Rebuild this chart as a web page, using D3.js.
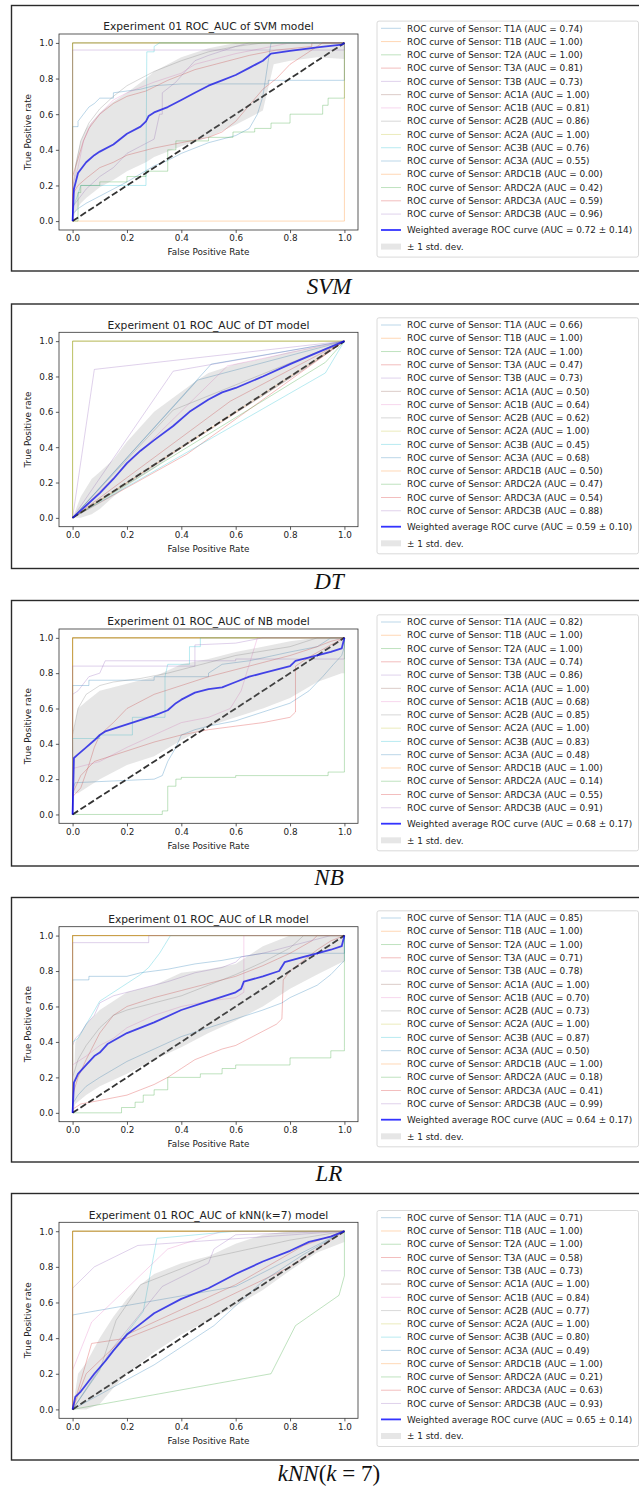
<!DOCTYPE html>
<html>
<head>
<meta charset="utf-8">
<script src="https://cdn.jsdelivr.net/npm/d3@7"></script>
<style>
html, body { margin: 0; padding: 0; background: #fff; }
svg { display: block; }
text { font-family: "DejaVu Sans", sans-serif; fill: #222; }
</style>
</head>
<body>
<script>
// ---------------- data ----------------
const sensors = ["T1A","T1B","T2A","T3A","T3B","AC1A","AC1B","AC2B","AC2A","AC3B","AC3A","ARDC1B","ARDC2A","ARDC3A","ARDC3B"];
const modelNames = ["SVM","DT","NB","LR","kNN(k=7)"];
const ticks = [0, 0.2, 0.4, 0.6, 0.8, 1.0];
const chanceLine = [[0, 0], [1, 1]];

// per-sensor AUC per model
const svmAuc = [0.74,1.00,1.00,0.81,0.73,1.00,0.81,0.86,1.00,0.76,0.55,0.00,0.42,0.59,0.96];
const dtAuc  = [0.66,1.00,1.00,0.47,0.73,0.50,0.64,0.62,1.00,0.45,0.68,0.50,0.47,0.54,0.88];
const nbAuc  = [0.82,1.00,1.00,0.74,0.86,1.00,0.68,0.85,1.00,0.83,0.48,1.00,0.14,0.55,0.91];
const lrAuc  = [0.85,1.00,1.00,0.71,0.78,1.00,0.70,0.73,1.00,0.87,0.50,1.00,0.18,0.41,0.99];
const knnAuc = [0.71,1.00,1.00,0.58,0.73,1.00,0.84,0.77,1.00,0.80,0.49,1.00,0.21,0.63,0.93];

// weighted average AUC and its std per model
const svmSummary = [0.72, 0.14];
const dtSummary  = [0.59, 0.10];
const nbSummary  = [0.68, 0.17];
const lrSummary  = [0.64, 0.17];
const knnSummary = [0.65, 0.14];

// ROC curves [fpr, tpr], in sensor order
const svmCurves = [
  [[0,0],[0,0.53],[0.02,0.53],[0.02,0.56],[0.04,0.6],[0.06,0.64],[0.08,0.66],[0.1,0.69],[0.15,0.69],[0.15,0.72],[0.25,0.74],[0.3,0.76],[0.4,0.77],[0.72,0.77],[0.72,0.79],[1,0.79],[1,1]],
  [[0,0],[0,1],[1,1]],
  [[0,0],[0,1],[1,1]],
  [[0,0],[0,0.25],[0.02,0.35],[0.04,0.45],[0.06,0.52],[0.1,0.6],[0.15,0.66],[0.2,0.7],[0.27,0.73],[0.35,0.79],[0.45,0.85],[0.55,0.89],[0.65,0.93],[0.75,0.96],[0.88,0.98],[0.88,1],[1,1]],
  [[0,0],[0,0.08],[0.02,0.12],[0.05,0.18],[0.1,0.25],[0.15,0.3],[0.2,0.38],[0.25,0.42],[0.3,0.46],[0.32,0.6],[0.33,0.6],[0.33,0.72],[0.38,0.78],[0.42,0.85],[0.45,0.9],[0.5,0.93],[0.6,0.98],[0.65,1],[1,1]],
  [[0,0],[0,1],[1,1]],
  [[0,0],[0,0.2],[0.02,0.3],[0.04,0.45],[0.07,0.55],[0.1,0.6],[0.15,0.68],[0.2,0.72],[0.3,0.78],[0.4,0.83],[0.45,0.88],[0.5,0.9],[0.6,0.94],[0.7,0.97],[0.8,1],[1,1]],
  [[0,0],[0,0.15],[0.01,0.3],[0.03,0.45],[0.06,0.55],[0.1,0.63],[0.15,0.7],[0.2,0.76],[0.25,0.8],[0.3,0.84],[0.4,0.9],[0.5,0.95],[0.6,0.98],[0.7,1],[1,1]],
  [[0,0],[0,1],[1,1]],
  [[0,0],[0,0.07],[0.02,0.15],[0.03,0.2],[0.27,0.2],[0.27,0.28],[0.273,0.95],[0.3,0.95],[0.3,0.98],[0.32,1],[1,1]],
  [[0,0],[0,0.04],[0.02,0.07],[0.05,0.1],[0.1,0.14],[0.15,0.18],[0.2,0.22],[0.3,0.31],[0.35,0.34],[0.4,0.38],[0.45,0.41],[0.5,0.44],[0.55,0.46],[0.6,0.48],[0.65,0.52],[0.68,0.6],[0.7,0.7],[0.71,0.8],[0.72,0.9],[0.73,1],[1,1]],
  [[0,0],[1,0],[1,1]],
  [[0,0],[0.02,0],[0.02,0.16],[0.03,0.16],[0.03,0.2],[0.1,0.2],[0.1,0.22],[0.2,0.22],[0.2,0.25],[0.27,0.25],[0.27,0.28],[0.35,0.28],[0.35,0.4],[0.38,0.4],[0.38,0.45],[0.5,0.45],[0.5,0.47],[0.59,0.47],[0.59,0.5],[0.67,0.5],[0.67,0.52],[0.73,0.52],[0.73,0.55],[0.8,0.55],[0.8,0.6],[0.92,0.6],[0.92,0.65],[0.94,0.65],[0.94,0.69],[1,0.69],[1,1]],
  [[0,0],[0,0.15],[0.02,0.2],[0.05,0.24],[0.1,0.3],[0.15,0.33],[0.2,0.37],[0.3,0.41],[0.4,0.44],[0.5,0.47],[0.55,0.5],[0.6,0.56],[0.65,0.65],[0.7,0.74],[0.75,0.8],[0.8,0.88],[0.85,0.93],[0.9,0.98],[0.92,1],[1,1]],
  [[0,0],[0,0.96],[1,0.96],[1,1]]
];

const dtCurves = [
  [[0,0],[0.46,0.78],[1,1]],
  [[0,0],[0,1],[1,1]],
  [[0,0],[0,1],[1,1]],
  [[0,0],[0.42,0.36],[1,1]],
  [[0,0],[0.37,0.83],[1,1]],
  [[0,0],[0.85,0.84],[1,1]],
  [[0,0],[0.57,0.86],[1,1]],
  [[0,0],[0.37,0.61],[1,1]],
  [[0,0],[0,1],[1,1]],
  [[0,0],[0.93,0.82],[1,1]],
  [[0,0],[0.51,0.87],[1,1]],
  [[0,0],[1,1]],
  [[0,0],[0.93,0.88],[1,1]],
  [[0,0],[0.58,0.66],[1,1]],
  [[0,0],[0.08,0.84],[1,1]]
];

const nbCurves = [
  [[0,0],[0,0.73],[0.06,0.73],[0.06,0.76],[0.3,0.76],[0.3,0.78],[0.5,0.78],[0.5,0.8],[0.55,0.85],[0.65,0.87],[0.8,0.92],[0.9,0.95],[0.95,1],[1,1]],
  [[0,0],[0,1],[1,1]],
  [[0,0],[0,1],[1,1]],
  [[0,0],[0,0.1],[0.03,0.15],[0.06,0.28],[0.08,0.38],[0.1,0.45],[0.15,0.52],[0.2,0.6],[0.3,0.68],[0.4,0.73],[0.5,0.78],[0.6,0.82],[0.7,0.86],[0.8,0.9],[0.9,0.95],[0.95,0.98],[1,1]],
  [[0,0],[0,0.68],[0.02,0.7],[0.04,0.74],[0.06,0.78],[0.1,0.8],[0.12,0.87],[0.6,0.87],[0.6,0.88],[1,0.88],[1,1]],
  [[0,0],[0,1],[1,1]],
  [[0,0],[0,0.26],[0.05,0.28],[0.1,0.3],[0.2,0.38],[0.3,0.45],[0.4,0.52],[0.5,0.55],[0.58,0.6],[0.62,0.7],[0.65,0.85],[0.68,1],[1,1]],
  [[0,0],[0,0.45],[0.02,0.6],[0.05,0.68],[0.1,0.73],[0.15,0.75],[0.25,0.77],[0.35,0.8],[0.45,0.84],[0.6,0.9],[0.8,0.95],[0.9,1],[1,1]],
  [[0,0],[0,1],[1,1]],
  [[0,0],[0,0.43],[0.1,0.43],[0.1,0.45],[0.22,0.45],[0.22,0.55],[0.34,0.55],[0.34,0.78],[0.35,0.85],[0.43,0.85],[0.43,0.95],[0.47,0.95],[0.47,1],[1,1]],
  [[0,0],[0,0.14],[0.01,0.18],[0.3,0.2],[0.33,0.22],[0.35,0.3],[0.38,0.38],[0.4,0.45],[0.45,0.48],[0.5,0.5],[0.6,0.53],[0.7,0.58],[0.8,0.63],[0.87,0.7],[0.92,0.78],[0.96,0.85],[0.99,0.9],[1,0.95],[1,1]],
  [[0,0],[0,1],[1,1]],
  [[0,0],[0.33,0],[0.33,0.02],[0.35,0.02],[0.35,0.16],[0.38,0.16],[0.38,0.2],[0.4,0.2],[0.4,0.21],[0.6,0.21],[0.6,0.22],[0.94,0.22],[0.94,0.24],[1,0.24],[1,1]],
  [[0,0],[0,0.12],[0.03,0.22],[0.08,0.3],[0.2,0.36],[0.3,0.41],[0.4,0.45],[0.5,0.48],[0.6,0.5],[0.7,0.52],[0.8,0.55],[0.82,0.58],[0.82,0.84],[0.88,0.9],[0.95,0.96],[1,1]],
  [[0,0],[0,0.84],[0.45,0.84],[0.45,0.96],[0.6,0.97],[0.7,1],[1,1]]
];

const lrCurves = [
  [[0,0],[0,0.75],[0.06,0.75],[0.06,0.77],[0.2,0.77],[0.25,0.79],[0.35,0.81],[0.45,0.84],[0.55,0.86],[0.62,0.88],[0.7,0.9],[1,0.9],[1,1]],
  [[0,0],[0,1],[1,1]],
  [[0,0],[0,1],[1,1]],
  [[0,0],[0,0.1],[0.02,0.2],[0.05,0.3],[0.1,0.45],[0.15,0.55],[0.2,0.6],[0.3,0.65],[0.4,0.69],[0.5,0.73],[0.6,0.77],[0.7,0.83],[0.8,0.9],[0.88,0.97],[0.9,1],[1,1]],
  [[0,0],[0,0.38],[0.01,0.42],[0.03,0.45],[0.05,0.5],[0.08,0.55],[0.1,0.62],[0.15,0.66],[0.25,0.7],[0.35,0.74],[0.45,0.79],[0.55,0.82],[0.6,0.85],[0.62,0.88],[0.7,0.9],[0.8,0.94],[0.9,0.98],[0.95,1],[1,1]],
  [[0,0],[0,1],[1,1]],
  [[0,0],[0,0.27],[0.05,0.32],[0.1,0.38],[0.15,0.42],[0.2,0.48],[0.3,0.55],[0.4,0.6],[0.5,0.63],[0.6,0.65],[0.63,0.68],[0.63,1],[1,1]],
  [[0,0],[0,0.2],[0.02,0.3],[0.05,0.38],[0.1,0.48],[0.15,0.55],[0.2,0.58],[0.3,0.62],[0.4,0.66],[0.5,0.72],[0.6,0.78],[0.7,0.85],[0.8,0.93],[0.85,1],[1,1]],
  [[0,0],[0,1],[1,1]],
  [[0,0],[0,0.4],[0.02,0.42],[0.05,0.5],[0.07,0.55],[0.1,0.63],[0.15,0.68],[0.2,0.73],[0.25,0.78],[0.28,0.82],[0.3,0.86],[0.32,0.9],[0.34,0.95],[0.36,1],[1,1]],
  [[0,0],[0,0.05],[0.02,0.1],[0.05,0.15],[0.1,0.2],[0.2,0.29],[0.3,0.36],[0.4,0.43],[0.5,0.48],[0.6,0.53],[0.7,0.58],[0.77,0.62],[0.8,0.65],[0.9,0.72],[0.95,0.78],[1,0.86],[1,1]],
  [[0,0],[0,1],[1,1]],
  [[0,0],[0.18,0],[0.18,0.03],[0.23,0.03],[0.23,0.06],[0.26,0.06],[0.26,0.1],[0.3,0.1],[0.3,0.13],[0.35,0.13],[0.35,0.2],[0.47,0.2],[0.47,0.22],[0.55,0.22],[0.55,0.25],[0.6,0.25],[0.6,0.27],[0.8,0.27],[0.8,0.31],[0.95,0.31],[0.95,0.35],[1,0.35],[1,0.37],[1,1]],
  [[0,0],[0,0.02],[0.03,0.05],[0.1,0.07],[0.2,0.1],[0.25,0.13],[0.3,0.16],[0.35,0.2],[0.4,0.25],[0.45,0.3],[0.5,0.33],[0.55,0.36],[0.6,0.38],[0.65,0.42],[0.7,0.46],[0.75,0.5],[0.77,0.53],[0.775,0.75],[0.8,0.8],[0.85,0.86],[0.9,0.92],[0.95,0.97],[1,1]],
  [[0,0],[0,0.96],[0.28,0.96],[0.28,1],[1,1]]
];

const knnCurves = [
  [[0,0],[0,0.53],[0.6,0.69],[1,1]],
  [[0,0],[0,1],[1,1]],
  [[0,0],[0,1],[1,1]],
  [[0,0],[0.07,0.37],[0.2,0.4],[0.5,0.58],[0.8,0.8],[1,1]],
  [[0,0],[0.15,0.35],[0.33,0.69],[0.5,0.82],[0.52,0.9],[0.6,0.98],[1,1]],
  [[0,0],[0,1],[1,1]],
  [[0,0],[0,0.22],[0.07,0.49],[0.2,0.68],[0.35,0.9],[0.55,1],[1,1]],
  [[0,0],[0.1,0.22],[0.16,0.5],[0.25,0.7],[0.5,0.85],[0.8,0.95],[1,1]],
  [[0,0],[0,1],[1,1]],
  [[0,0],[0.12,0.27],[0.26,0.55],[0.31,0.96],[0.6,1],[1,1]],
  [[0,0],[0.3,0.25],[0.52,0.47],[0.7,0.72],[0.85,0.87],[1,1]],
  [[0,0],[0,1],[1,1]],
  [[0,0],[0.73,0.2],[0.82,0.47],[0.98,0.64],[1,0.75],[1,1]],
  [[0,0],[0.05,0.2],[0.2,0.42],[0.6,0.7],[0.85,0.92],[1,1]],
  [[0,0],[0,0.68],[0.08,0.8],[0.24,0.92],[1,1]]
];

// weighted average ROC curve [fpr, tpr]
const svmMean = [[0,0],[0.005,0.18],[0.02,0.27],[0.05,0.33],[0.08,0.37],[0.1,0.39],[0.15,0.43],[0.2,0.49],[0.25,0.53],[0.27,0.56],[0.28,0.59],[0.3,0.61],[0.35,0.64],[0.4,0.68],[0.45,0.72],[0.5,0.76],[0.55,0.79],[0.6,0.82],[0.65,0.86],[0.7,0.9],[0.73,0.94],[0.8,0.955],[0.9,0.975],[0.99,0.99],[1,1]];
const dtMean  = [[0,0],[0.05,0.07],[0.1,0.14],[0.15,0.22],[0.2,0.31],[0.25,0.38],[0.3,0.44],[0.37,0.52],[0.43,0.6],[0.5,0.67],[0.55,0.71],[0.6,0.735],[0.7,0.8],[0.8,0.87],[0.9,0.935],[1,1]];
const nbMean  = [[0,0],[0.005,0.32],[0.02,0.34],[0.05,0.38],[0.08,0.42],[0.1,0.45],[0.12,0.47],[0.2,0.51],[0.3,0.56],[0.35,0.59],[0.38,0.63],[0.4,0.65],[0.45,0.69],[0.5,0.71],[0.55,0.72],[0.6,0.75],[0.65,0.78],[0.7,0.8],[0.8,0.84],[0.82,0.87],[0.9,0.9],[0.95,0.92],[0.99,0.94],[1,1]];
const lrMean  = [[0,0],[0.005,0.17],[0.02,0.22],[0.05,0.27],[0.08,0.32],[0.1,0.34],[0.13,0.39],[0.2,0.45],[0.3,0.51],[0.4,0.58],[0.5,0.63],[0.6,0.68],[0.62,0.7],[0.63,0.74],[0.7,0.77],[0.76,0.8],[0.78,0.85],[0.85,0.88],[0.9,0.9],[0.95,0.92],[0.99,0.94],[1,1]];
const knnMean = [[0,0],[0.01,0.07],[0.03,0.1],[0.05,0.14],[0.08,0.2],[0.12,0.27],[0.15,0.33],[0.2,0.42],[0.25,0.48],[0.3,0.54],[0.4,0.62],[0.5,0.68],[0.6,0.76],[0.7,0.83],[0.8,0.89],[0.87,0.94],[0.95,0.97],[1,1]];

// +-1 std band [fpr, lower, upper]
const svmBand = [[0,0,0],[0.01,0.05,0.32],[0.03,0.1,0.45],[0.05,0.13,0.52],[0.1,0.19,0.61],[0.15,0.23,0.67],[0.2,0.28,0.72],[0.27,0.33,0.8],[0.3,0.36,0.84],[0.4,0.42,0.92],[0.5,0.47,0.97],[0.6,0.54,1],[0.7,0.62,1],[0.72,0.75,1],[0.74,0.88,1],[0.8,0.9,1],[0.9,0.92,1],[1,0.91,1]];
const dtBand  = [[0,0,0],[0.03,0,0.12],[0.07,0.02,0.22],[0.1,0.05,0.26],[0.15,0.12,0.33],[0.2,0.18,0.43],[0.3,0.28,0.6],[0.37,0.36,0.68],[0.45,0.45,0.77],[0.5,0.51,0.82],[0.6,0.6,0.87],[0.7,0.69,0.9],[0.8,0.79,0.94],[0.9,0.89,0.97],[1,1,1]];
const nbBand  = [[0,0,0],[0.005,0.12,0.48],[0.02,0.12,0.6],[0.05,0.15,0.64],[0.1,0.2,0.7],[0.2,0.28,0.74],[0.3,0.33,0.78],[0.4,0.42,0.85],[0.5,0.5,0.88],[0.6,0.55,0.92],[0.7,0.6,0.95],[0.8,0.66,0.98],[0.9,0.75,1],[0.99,0.8,1],[1,0.8,1]];
const lrBand  = [[0,0,0],[0.01,0.05,0.4],[0.05,0.1,0.5],[0.1,0.15,0.58],[0.2,0.22,0.68],[0.3,0.3,0.72],[0.4,0.37,0.79],[0.5,0.45,0.81],[0.6,0.52,0.84],[0.7,0.6,0.94],[0.8,0.7,1],[0.9,0.78,1],[0.99,0.85,1],[1,0.85,1]];
const knnBand = [[0,0,0],[0.02,0,0.2],[0.05,0,0.26],[0.1,0.03,0.4],[0.15,0.12,0.52],[0.2,0.2,0.62],[0.25,0.26,0.7],[0.3,0.32,0.76],[0.4,0.42,0.82],[0.5,0.5,0.86],[0.6,0.58,0.93],[0.7,0.67,0.98],[0.8,0.78,1],[0.9,0.88,1],[1,0.94,1]];

// figure captions: [text, italic]
const svmCaption = [["SVM", true]];
const dtCaption  = [["DT", true]];
const nbCaption  = [["NB", true]];
const lrCaption  = [["LR", true]];
const knnCaption = [["kNN", true], ["(", false], ["k", true], [" = 7)", false]];

// ---------------- layout ----------------
const W = 639, H = 1486;
const palette = ["#1f77b4","#ff7f0e","#2ca02c","#d62728","#9467bd","#8c564b","#e377c2","#7f7f7f","#bcbd22","#17becf"];
const panels = [
  { name: modelNames[0], auc: svmAuc, summary: svmSummary, curves: svmCurves, mean: svmMean, band: svmBand, caption: svmCaption,
    frame: [5.5, 271], axTop: 34, axH: 196, legTop: 28.3, capY: 294 },
  { name: modelNames[1], auc: dtAuc, summary: dtSummary, curves: dtCurves, mean: dtMean, band: dtBand, caption: dtCaption,
    frame: [304, 568.5], axTop: 332.3, axH: 194.4, legTop: 325, capY: 589 },
  { name: modelNames[2], auc: nbAuc, summary: nbSummary, curves: nbCurves, mean: nbMean, band: nbBand, caption: nbCaption,
    frame: [600.5, 866], axTop: 629, axH: 194.3, legTop: 622, capY: 885 },
  { name: modelNames[3], auc: lrAuc, summary: lrSummary, curves: lrCurves, mean: lrMean, band: lrBand, caption: lrCaption,
    frame: [897.5, 1162], axTop: 926.7, axH: 195, legTop: 918, capY: 1181 },
  { name: modelNames[4], auc: knnAuc, summary: knnSummary, curves: knnCurves, mean: knnMean, band: knnBand, caption: knnCaption,
    frame: [1193.5, 1460], axTop: 1222.3, axH: 196, legTop: 1217.7, capY: 1481 }
];

const svg = d3.select("body").append("svg")
  .attr("width", W).attr("height", H)
  .attr("viewBox", `0 0 ${W} ${H}`);
svg.append("rect").attr("width", W).attr("height", H).attr("fill", "#fff");

const AX_L = 59, AX_R = 358;
const fmt = d3.format(".1f");

function drawPanel(p) {
  const g = svg.append("g");

  // outer frame around the figure
  g.append("rect")
    .attr("x", 11.5).attr("y", p.frame[0])
    .attr("width", 700).attr("height", p.frame[1] - p.frame[0])
    .attr("fill", "none").attr("stroke", "#2a2a2a").attr("stroke-width", 1.4);

  const x = d3.scaleLinear().domain([-0.05, 1.05]).range([AX_L, AX_R]);
  const y = d3.scaleLinear().domain([-0.05, 1.05]).range([p.axTop + p.axH, p.axTop]);
  const line = d3.line().x(d => x(d[0])).y(d => y(d[1]));
  const area = d3.area().x(d => x(d[0])).y0(d => y(d[1])).y1(d => y(d[2]));

  // per-sensor ROC curves
  g.append("g").selectAll("path").data(p.curves).join("path")
    .attr("d", d => line(d))
    .attr("fill", "none")
    .attr("stroke", (d, k) => palette[k % 10])
    .attr("stroke-opacity", 0.3)
    .attr("stroke-width", 1)
    .attr("stroke-linejoin", "round");

  // chance diagonal
  g.append("path").attr("d", line(chanceLine))
    .attr("fill", "none").attr("stroke", "#000").attr("stroke-opacity", 0.8)
    .attr("stroke-width", 1.8).attr("stroke-dasharray", "6.6,2.8");

  // weighted average curve
  g.append("path").attr("d", line(p.mean))
    .attr("fill", "none").attr("stroke", "#0000ff").attr("stroke-opacity", 0.8)
    .attr("stroke-width", 1.8).attr("stroke-linejoin", "round");

  // +-1 std band
  g.append("path").attr("d", area(p.band))
    .attr("fill", "#808080").attr("fill-opacity", 0.2);

  // spines
  g.append("rect").attr("x", AX_L).attr("y", p.axTop)
    .attr("width", AX_R - AX_L).attr("height", p.axH)
    .attr("fill", "none").attr("stroke", "#333").attr("stroke-width", 0.8);

  // axes
  const xa = g.append("g").attr("transform", `translate(0,${p.axTop + p.axH})`)
    .call(d3.axisBottom(x).tickValues(ticks).tickFormat(fmt).tickSize(3.1).tickPadding(2));
  const ya = g.append("g").attr("transform", `translate(${AX_L},0)`)
    .call(d3.axisLeft(y).tickValues(ticks).tickFormat(fmt).tickSize(3.1).tickPadding(2.6));
  [xa, ya].forEach(a => {
    a.select(".domain").remove();
    a.selectAll(".tick line").attr("stroke", "#333").attr("stroke-width", 0.8);
    a.selectAll(".tick text").attr("fill", "#222").style("font-family", "DejaVu Sans")
      .style("font-size", "8.8px");
  });

  // title and axis labels
  g.append("text").attr("x", (AX_L + AX_R) / 2).attr("y", p.axTop - 3.6)
    .attr("text-anchor", "middle").style("font-size", "10.7px")
    .text(`Experiment 01 ROC_AUC of ${p.name} model`);
  g.append("text").attr("x", (AX_L + AX_R) / 2).attr("y", p.axTop + p.axH + 25.3)
    .attr("text-anchor", "middle").style("font-size", "8.8px")
    .text("False Positive Rate");
  g.append("text")
    .attr("transform", `translate(31.3,${p.axTop + p.axH / 2}) rotate(-90)`)
    .attr("text-anchor", "middle").style("font-size", "8.8px")
    .text("True Positive rate");

  // legend
  const lx = 377, step = 13.27;
  const lg = g.append("g");
  lg.append("rect").attr("x", lx).attr("y", p.legTop - 7.2)
    .attr("width", 261.5).attr("height", 236)
    .attr("rx", 2).attr("fill", "#fff").attr("fill-opacity", 0.8)
    .attr("stroke", "#d0d0d0").attr("stroke-width", 0.8);
  const rows = lg.selectAll("g.row").data(sensors).join("g").attr("class", "row")
    .attr("transform", (d, k) => `translate(0,${p.legTop + k * step})`);
  rows.append("line").attr("x1", 381).attr("x2", 401).attr("y1", 0).attr("y2", 0)
    .attr("stroke", (d, k) => palette[k % 10]).attr("stroke-opacity", 0.3).attr("stroke-width", 1);
  rows.append("text").attr("x", 407).attr("y", 3.2).style("font-size", "8.9px")
    .text((d, k) => `ROC curve of Sensor: ${d} (AUC = ${p.auc[k].toFixed(2)})`);

  const wy = p.legTop + 201.7;
  lg.append("line").attr("x1", 381).attr("x2", 401).attr("y1", wy).attr("y2", wy)
    .attr("stroke", "#0000ff").attr("stroke-opacity", 0.8).attr("stroke-width", 1.8);
  lg.append("text").attr("x", 407).attr("y", wy + 3.2).style("font-size", "8.9px")
    .text(`Weighted average ROC curve (AUC = ${p.summary[0].toFixed(2)} \u00b1 ${p.summary[1].toFixed(2)})`);
  const sy = p.legTop + 218.3;
  lg.append("rect").attr("x", 381).attr("y", sy - 3).attr("width", 20).attr("height", 6)
    .attr("fill", "#808080").attr("fill-opacity", 0.2);
  lg.append("text").attr("x", 407).attr("y", sy + 3.2).style("font-size", "8.9px")
    .text("\u00b1 1 std. dev.");

  // caption beneath the figure
  const cap = g.append("text").attr("x", 329).attr("y", p.capY)
    .attr("text-anchor", "middle")
    .style("font-family", "'Liberation Serif', serif").style("font-size", "23px").style("fill", "#111");
  p.caption.forEach(([t, it]) => {
    cap.append("tspan").text(t).style("font-style", it ? "italic" : "normal");
  });
}

panels.forEach(drawPanel);
</script>
</body>
</html>
